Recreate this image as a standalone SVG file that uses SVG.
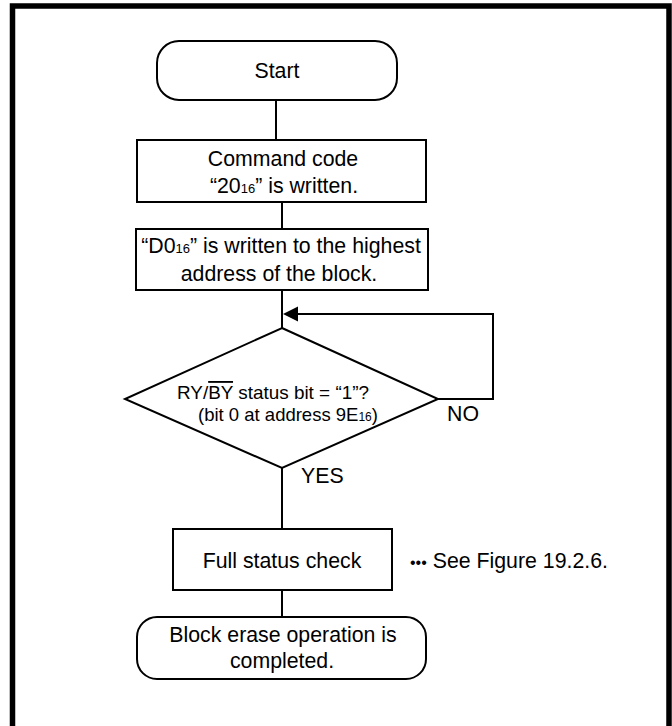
<svg xmlns="http://www.w3.org/2000/svg" width="672" height="726" viewBox="0 0 672 726">
<style>
.n{fill:#fff;stroke:#000;stroke-width:2}
.c{fill:none;stroke:#000;stroke-width:2}
text{font-family:"Liberation Sans",Arial,sans-serif;font-size:21.3px;fill:#000}
.m{text-anchor:middle}
.s{font-size:13px}
.d{font-size:18.5px}
</style>
<rect x="0" y="0" width="672" height="726" fill="#fff"/>
<path d="M12.5,726 V6 H669 V726" fill="none" stroke="#000" stroke-width="5.5"/>
<g id="connectors">
<line class="c" x1="276" y1="100" x2="276" y2="140"/>
<line class="c" x1="282" y1="202" x2="282" y2="229"/>
<line class="c" x1="282" y1="290" x2="282" y2="328"/>
<polyline class="c" points="438,399 493,399 493,314 296,314"/>
<polygon points="283,314 298,306.5 298,321.5" fill="#000"/>
<line class="c" x1="282" y1="468" x2="282" y2="529"/>
<line class="c" x1="282" y1="590" x2="282" y2="617"/>
<text x="447" y="421">NO</text>
<text x="301" y="483">YES</text>
</g>
<g id="start">
<rect class="n" x="157" y="41" width="240" height="59" rx="22"/>
<text class="m" x="277" y="78">Start</text>
</g>
<g id="cmd">
<rect class="n" x="137" y="140" width="289" height="62"/>
<text class="m" x="283" y="166">Command code</text>
<text class="m" x="284" y="193">“20<tspan class="s">16</tspan>” is written.</text>
</g>
<g id="d0">
<rect class="n" x="136" y="229" width="292" height="61"/>
<text class="m" x="281" y="253">“D0<tspan class="s">16</tspan>” is written to the highest</text>
<text class="m" x="279" y="281">address of the block.</text>
</g>
<g id="decision">
<polygon class="n" points="282,328 438,399 282,468 125,399"/>
<text class="d" x="177" y="399" textLength="192" lengthAdjust="spacingAndGlyphs">RY/<tspan text-decoration="overline">BY</tspan> status bit = “1”?</text>
<text class="d" x="198" y="421">(bit 0 at address 9E<tspan font-size="12">16</tspan>)</text>
</g>
<g id="fullcheck">
<rect class="n" x="173" y="529" width="219" height="61"/>
<text class="m" x="282" y="568">Full status check</text>
<text x="410" y="568"><tspan font-size="16">•••</tspan> See Figure 19.2.6.</text>
</g>
<g id="end">
<rect class="n" x="137" y="617" width="289" height="62" rx="20"/>
<text class="m" x="283" y="642">Block erase operation is</text>
<text class="m" x="282" y="668">completed.</text>
</g>
</svg>
